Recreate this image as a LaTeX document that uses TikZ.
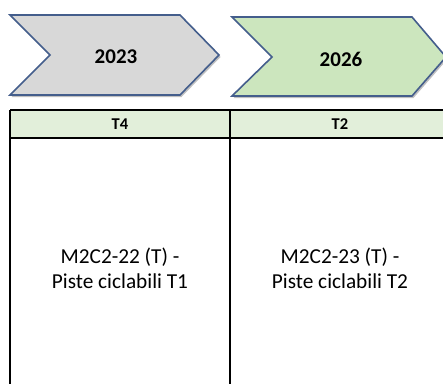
\documentclass[tikz,border=0pt]{standalone}
\usepackage{fontspec}
\setmainfont{Carlito}
\usetikzlibrary{shadows}
\definecolor{chevborder}{RGB}{68,94,140}
\definecolor{chevgray}{RGB}{216,216,216}
\definecolor{chevgreen}{RGB}{204,230,190}
\definecolor{headgreen}{RGB}{226,239,218}
\tikzset{
  chev/.style={draw=chevborder, line width=1.6pt, line join=miter,
    drop shadow={shadow xshift=1.5pt, shadow yshift=-2pt, opacity=0.35, fill=black!70}},
  yearlbl/.style={font=\fontsize{21}{24}\selectfont\bfseries, inner sep=0pt},
  headlbl/.style={font=\fontsize{16.5}{18}\selectfont\bfseries, inner sep=0pt},
  bodylbl/.style={font=\fontsize{21.3}{25}\selectfont, align=center, inner sep=0pt},
  tline/.style={draw=black, line width=1.4pt}
}
\begin{document}
\begin{tikzpicture}[x=1pt,y=-1pt]
\useasboundingbox[fill=white] (0,0) rectangle (443,383);
% chevrons
\path[chev, fill=chevgray] (10,15) -- (180,15) -- (219,55) -- (180,95) -- (10,95) -- (50,55) -- cycle;
\path[chev, fill=chevgreen] (232,17) -- (412,17) -- (446,57) -- (412,96) -- (232,96) -- (272,57) -- cycle;
\node[yearlbl] (y1) at (116,57) {2023};
\node[yearlbl] (y2) at (341,59) {2026};
% table
\fill[headgreen] (10,110) rectangle (460,138);
\coordinate (tl) at (10,110);
\coordinate (tm) at (230,110);
\coordinate (tr) at (460,110);
\coordinate (hl) at (10,138);
\coordinate (hm) at (230,138);
\coordinate (hr) at (460,138);
\coordinate (bl) at (10,390);
\coordinate (bm) at (230,390);
\draw[tline] (tl) -- (tr);
\draw[tline] (hl) -- (hr);
\draw[tline] (tl) -- (bl);
\draw[tline] (tm) -- (bm);
\node[headlbl] (h1) at (120,124) {T4};
\node[headlbl] (h2) at (340,124) {T2};
\node[bodylbl] (c1) at (120,268) {M2C2-22 (T) -\\Piste ciclabili T1};
\node[bodylbl] (c2) at (340,268) {M2C2-23 (T) -\\Piste ciclabili T2};
\end{tikzpicture}
\end{document}
